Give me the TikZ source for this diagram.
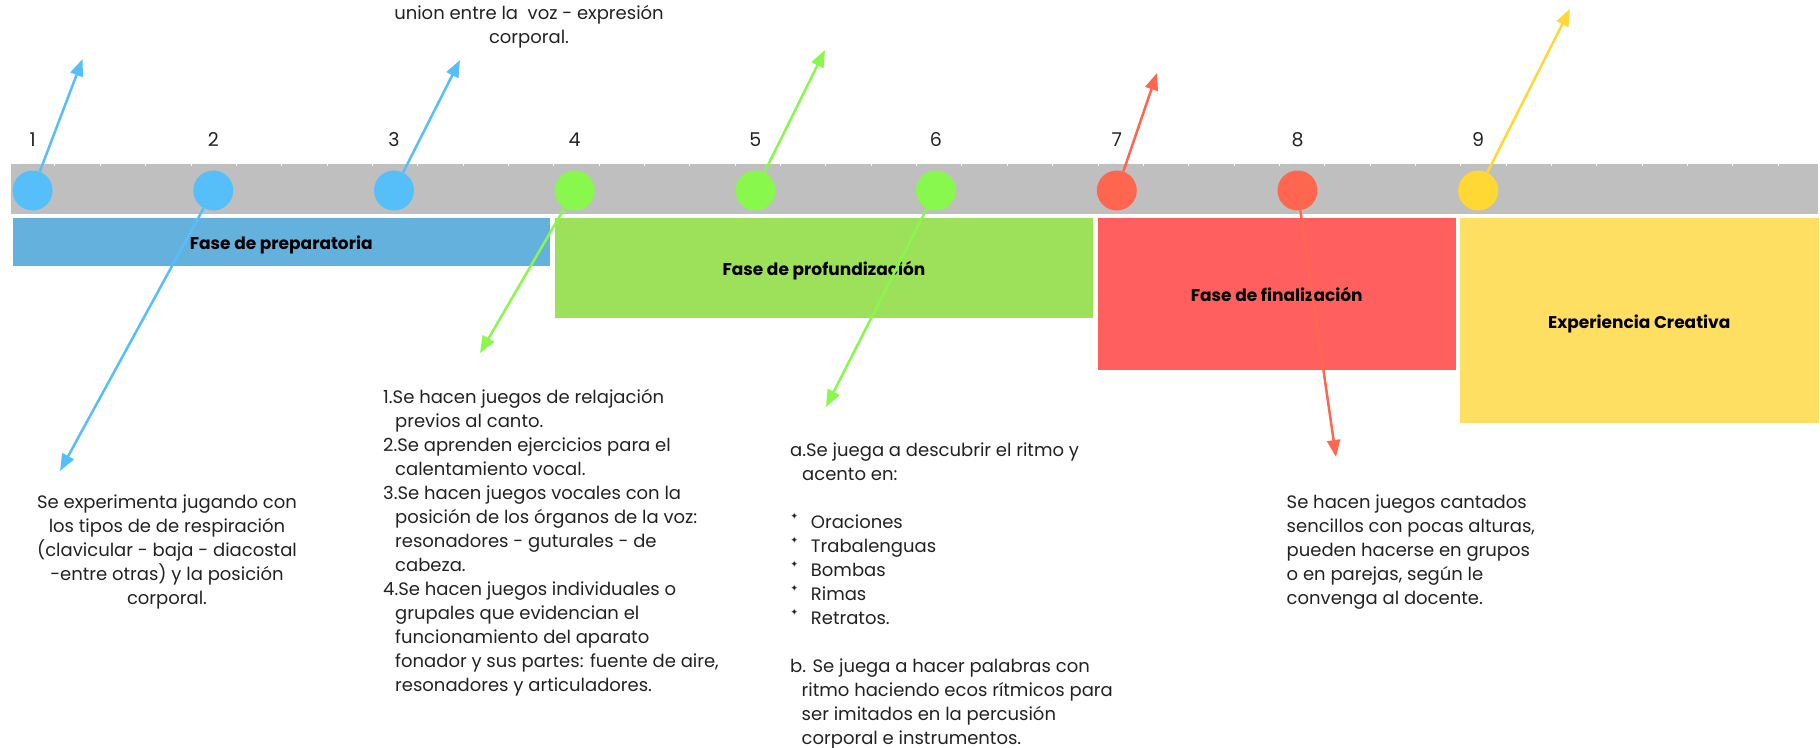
\documentclass[tikz,border=0pt]{standalone}
\usepackage{fontspec}
\setmainfont{Poppins}
\newfontfamily\symfont{DejaVu Sans}
\usetikzlibrary{arrows.meta}
\definecolor{bluedot}{HTML}{56BFF9}
\definecolor{greendot}{HTML}{88F84C}
\definecolor{reddot}{HTML}{FF6650}
\definecolor{yellowdot}{HTML}{FFD833}
\definecolor{bluebox}{HTML}{64B1DD}
\definecolor{greenbox}{HTML}{9DE05A}
\definecolor{redbox}{HTML}{FF5F5F}
\definecolor{yellowbox}{HTML}{FFDF62}
\definecolor{bargray}{HTML}{BFBFBF}
\definecolor{ink}{HTML}{222222}
\newcommand\bul{\makebox[20.7pt][l]{\hspace{0.5pt}\raisebox{8.5pt}{\symfont\fontsize{9}{9}\selectfont ✦}}}
\begin{document}
\begin{tikzpicture}[x=1pt,y=-1pt,
  dot/.style={circle, minimum size=40pt, inner sep=0pt},
  num/.style={inner sep=0pt, text=ink, font=\fontsize{19}{19}\selectfont},
  phase/.style={rectangle, draw=white, line width=1.5pt, inner sep=0pt, anchor=north west, text=black, text height=16pt, text depth=0pt, font=\bfseries\fontsize{17}{20}\selectfont},
  body/.style={inner sep=0pt, text=ink, font=\fontsize{18}{24}\selectfont},
  conn/.style={line width=2.5pt, -{Triangle[length=17pt,width=13pt]}},
  tick/.style={white!90!bargray, line width=0.8pt}]
\useasboundingbox (0,0) rectangle (1820,747);
% bar
\fill[bargray] (11,164) rectangle (1818,214);
\foreach \k in {1,...,39} {\draw[tick] (9.5+45.35*\k,164) -- ++(0,2);}
% phase boxes
\node[phase, fill=bluebox, minimum width=539pt, minimum height=50pt] (p1) at (11,216) {Fase de preparatoria};
\node[phase, fill=greenbox, minimum width=539.5pt, minimum height=102pt] (p2) at (553.5,216) {Fase de profundización};
\node[phase, fill=redbox, minimum width=360pt, minimum height=154pt] (p3) at (1096,216) {Fase de finalización};
\node[phase, fill=yellowbox, minimum width=361pt, minimum height=207pt] (p4) at (1458,216) {Experiencia Creativa};
% dots
\node[dot, fill=bluedot] (c1) at (32.6,190.5) {};
\node[dot, fill=bluedot] (c2) at (213.3,190.5) {};
\node[dot, fill=bluedot] (c3) at (394,190.5) {};
\node[dot, fill=greendot] (c4) at (574.7,190.5) {};
\node[dot, fill=greendot] (c5) at (755.4,190.5) {};
\node[dot, fill=greendot] (c6) at (936,190.5) {};
\node[dot, fill=reddot] (c7) at (1116.8,190.5) {};
\node[dot, fill=reddot] (c8) at (1297.5,190.5) {};
\node[dot, fill=yellowdot] (c9) at (1478.2,190.5) {};
% numbers
\foreach \i/\x in {1/32.6,2/213.3,3/394,4/574.7,5/755.4,6/936,7/1116.8,8/1297.5,9/1478.2}
  {\node[num] (n\i) at (\x,140) {\i};}
% arrow ends
\coordinate (a1) at (82.6,59);
\coordinate (a2) at (60,471);
\coordinate (a3) at (460,60);
\coordinate (a4) at (480,353);
\coordinate (a5) at (825,50);
\coordinate (a6) at (826,407);
\coordinate (a7) at (1157,73);
\coordinate (a8) at (1336,457);
\coordinate (a9) at (1570,9);
\draw[conn, bluedot] (c1) -- (a1);
\draw[conn, bluedot] (c2) -- (a2);
\draw[conn, bluedot] (c3) -- (a3);
\draw[conn, greendot] (c4) -- (a4);
\draw[conn, greendot] (c5) -- (a5);
\draw[conn, greendot] (c6) -- (a6);
\draw[conn, reddot] (c7) -- (a7);
\draw[conn, reddot] (c8) -- (a8);
\draw[conn, yellowdot] (c9) -- (a9);
% texts
\node[body, anchor=base] (ttop) at (529,19) {\begin{tabular}[t]{@{}c@{}}union entre la \ voz - expresión\\corporal.\end{tabular}};
\node[body, anchor=base] (tleft) at (167,508) {\begin{tabular}[t]{@{}c@{}}Se experimenta jugando con\\los tipos de de respiración\\(clavicular - baja - diacostal\\-entre otras) y la posición\\corporal.\end{tabular}};
\node[body, anchor=base west] (tlist) at (383,403) {\begin{tabular}[t]{@{}l@{}}1.Se hacen juegos de relajación\\
\hspace*{12pt}previos al canto.\\
2.Se aprenden ejercicios para el\\
\hspace*{12pt}calentamiento vocal.\\
3.Se hacen juegos vocales con la\\
\hspace*{12pt}posición de los órganos de la voz:\\
\hspace*{12pt}resonadores - guturales - de\\
\hspace*{12pt}cabeza.\\
4.Se hacen juegos individuales o\\
\hspace*{12pt}grupales que evidencian el\\
\hspace*{12pt}funcionamiento del aparato\\
\hspace*{12pt}fonador y sus partes: fuente de aire,\\
\hspace*{12pt}resonadores y articuladores.\end{tabular}};
\node[body, anchor=base west] (tab) at (790,456) {\begin{tabular}[t]{@{}l@{}}a.Se juega a descubrir el ritmo y\\
\hspace*{12pt}acento en:\\
\\
\bul Oraciones\\
\bul Trabalenguas\\
\bul Bombas\\
\bul Rimas\\
\bul Retratos.\\
\\
b. Se juega a hacer palabras con\\
\hspace*{11.5pt}ritmo haciendo ecos rítmicos para\\
\hspace*{11.5pt}ser imitados en la percusión\\
\hspace*{11.5pt}corporal e instrumentos.\end{tabular}};
\node[body, anchor=base west] (tright) at (1286.5,508) {\begin{tabular}[t]{@{}l@{}}Se hacen juegos cantados\\sencillos con pocas alturas,\\pueden hacerse en grupos\\o en parejas, según le\\convenga al docente.\end{tabular}};
\end{tikzpicture}
\end{document}
